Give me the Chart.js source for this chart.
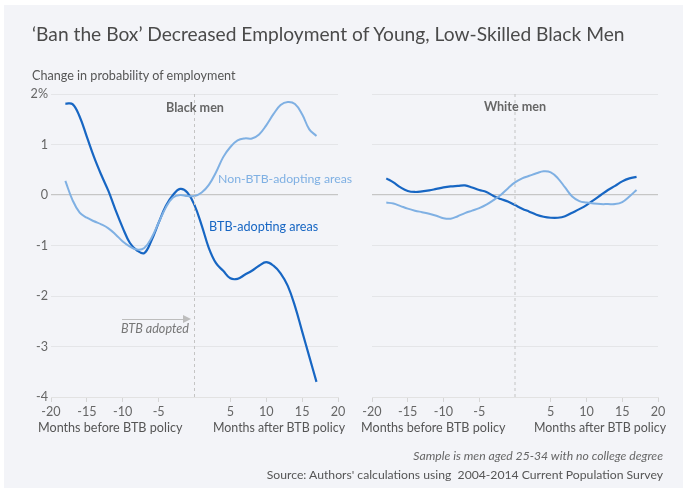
<!DOCTYPE html>
<html>
<head>
<meta charset="utf-8">
<script src="https://cdn.jsdelivr.net/npm/chart.js@4/dist/chart.umd.min.js"></script>
<style>
  html, body { margin: 0; padding: 0; background: #fff; }
  #wrap { position: relative; width: 687px; height: 494px; overflow: hidden; font-family: Lato, sans-serif; }
  #bg { position: absolute; left: 4px; top: 5px; width: 679px; height: 483px; background: #f3f4f8; }
  canvas { position: absolute; left: 0; top: 0; }
  .t { position: absolute; white-space: nowrap; transform: translateY(-50%); line-height: 1; }
  .c { transform: translate(-50%, -50%); }
  #arrow { position: absolute; left: 122px; top: 319px; width: 62px; height: 1px; background: #bdbdbd; }
  #arrow:after { content: ""; position: absolute; right: -7px; top: -4px; border-left: 8px solid #bdbdbd; border-top: 4.5px solid transparent; border-bottom: 4.5px solid transparent; }
</style>
</head>
<body>
<div id="wrap">
  <div id="bg"></div>
  <canvas id="left" width="687" height="494"></canvas>
  <canvas id="right" width="687" height="494"></canvas>

  <div class="t" style="left:32px;top:34px;font-size:19.2px;color:#4a4a4a;">‘Ban the Box’ Decreased Employment of Young, Low-Skilled Black Men</div>
  <div class="t" style="left:32px;top:76px;font-size:12.6px;color:#555;">Change in probability of employment</div>

  <div class="t c" style="left:195px;top:108px;font-size:12.6px;font-weight:bold;color:#666;">Black men</div>
  <div class="t c" style="left:515px;top:107px;font-size:12.6px;font-weight:bold;color:#666;">White men</div>

  <div class="t" style="left:218px;top:179px;font-size:12.3px;color:#7fb0e3;">Non-BTB-adopting areas</div>
  <div class="t" style="left:209px;top:227px;font-size:12.6px;color:#1766c3;">BTB-adopting areas</div>

  <div id="arrow"></div>
  <div class="t" style="left:121px;top:329px;font-size:12.6px;font-style:italic;color:#777;">BTB adopted</div>

  <div class="t" style="left:38px;top:428px;font-size:12.6px;color:#555;">Months before BTB policy</div>
  <div class="t" style="left:213px;top:428px;font-size:12.4px;color:#555;">Months after BTB policy</div>
  <div class="t" style="left:361px;top:428px;font-size:12.6px;color:#555;">Months before BTB policy</div>
  <div class="t" style="left:534px;top:428px;font-size:12.4px;color:#555;">Months after BTB policy</div>

  <div class="t" style="right:24px;top:456px;font-size:12.2px;font-style:italic;color:#666;">Sample is men aged 25-34 with no college degree</div>
  <div class="t" style="right:24px;top:475px;font-size:12.2px;color:#555;">Source: Authors' calculations using&nbsp; 2004-2014 Current Population Survey</div>
</div>

<script>
  const months = [-18, -17, -16, -15, -14, -13, -12, -11, -10, -9, -8, -7, -6, -5, -4, -3, -2, -1,
                  0, 1, 2, 3, 4, 5, 6, 7, 8, 9, 10, 11, 12, 13, 14, 15, 16, 17];

  // Black men
  const blackBtb = [1.81, 1.80, 1.55, 1.15, 0.75, 0.40, 0.08, -0.30, -0.65, -0.95, -1.10, -1.15,
                    -0.90, -0.55, -0.22, 0.00, 0.12, 0.05, -0.20, -0.60, -1.05, -1.35, -1.50, -1.65,
                    -1.66, -1.58, -1.50, -1.40, -1.33, -1.40, -1.55, -1.80, -2.20, -2.70, -3.20, -3.70];
  const blackNonBtb = [0.28, -0.10, -0.35, -0.45, -0.52, -0.58, -0.66, -0.78, -0.92, -1.02, -1.08, -1.05,
                       -0.85, -0.55, -0.25, -0.05, 0.00, -0.02, -0.02, 0.05, 0.20, 0.45, 0.75, 0.95,
                       1.08, 1.12, 1.12, 1.20, 1.38, 1.60, 1.78, 1.84, 1.80, 1.60, 1.30, 1.17];

  // White men
  const whiteBtb = [0.33, 0.25, 0.15, 0.08, 0.06, 0.07, 0.09, 0.12, 0.15, 0.17, 0.18, 0.19,
                    0.15, 0.10, 0.06, -0.02, -0.08, -0.13, -0.20, -0.27, -0.33, -0.39, -0.43, -0.45,
                    -0.45, -0.42, -0.35, -0.28, -0.20, -0.10, 0.00, 0.10, 0.18, 0.27, 0.33, 0.36];
  const whiteNonBtb = [-0.15, -0.17, -0.22, -0.27, -0.31, -0.34, -0.37, -0.41, -0.46, -0.47, -0.42, -0.36,
                       -0.31, -0.26, -0.19, -0.10, 0.00, 0.13, 0.25, 0.33, 0.38, 0.43, 0.47, 0.45,
                       0.33, 0.15, -0.03, -0.12, -0.15, -0.17, -0.18, -0.18, -0.18, -0.14, -0.03, 0.10];

  const yTicks = [2, 1, 0, -1, -2, -3, -4];
  const xTicks = [-20, -15, -10, -5, 5, 10, 15, 20];
  const policyLine = [{ x: 0, y: 2 }, { x: 0, y: -4 }];

  const DARK = "#1766c3";
  const LIGHT = "#7fb0e3";

  function pts(vals) {
    return months.map((m, i) => ({ x: m, y: vals[i] }));
  }

  function makeChart(id, btb, nonBtb, showY, pad) {
    return new Chart(document.getElementById(id), {
      type: "line",
      data: {
        datasets: [
          { data: policyLine, borderColor: "#c4c4c4", borderWidth: 1, borderDash: [3, 3], pointRadius: 0, tension: 0 },
          { data: pts(nonBtb), borderColor: LIGHT, borderWidth: 2, pointRadius: 0, tension: 0.4 },
          { data: pts(btb), borderColor: DARK, borderWidth: 2.2, pointRadius: 0, tension: 0.4 }
        ]
      },
      options: {
        responsive: false,
        animation: false,
        layout: { padding: pad },
        plugins: { legend: { display: false }, tooltip: { enabled: false } },
        scales: {
          x: {
            type: "linear",
            min: -20,
            max: 20,
            afterBuildTicks: s => { s.ticks = xTicks.map(v => ({ value: v })); },
            afterFit: s => { s.height = 20; },
            border: { display: true, color: "#e2e2e2" },
            grid: { drawOnChartArea: false, drawTicks: true, tickLength: 5, color: "#d6d6d6" },
            ticks: { color: "#666", font: { family: "Lato", size: 12.6 }, padding: 2, maxRotation: 0 }
          },
          y: {
            min: -4,
            max: 2,
            afterBuildTicks: s => { s.ticks = yTicks.map(v => ({ value: v })); },
            afterFit: s => { s.width = showY ? 30 : 0; },
            border: { display: false },
            grid: {
              drawTicks: false,
              color: c => c.tick.value === 0 ? "#c6c6c6" : "#e4e5e8",
              lineWidth: c => c.tick.value === 0 ? 1.3 : 1
            },
            ticks: {
              display: showY,
              padding: 3,
              color: "#666",
              font: { family: "Lato", size: 12.6 },
              callback: v => v === 2 ? "2%" : String(v)
            }
          }
        }
      }
    });
  }

  makeChart("left", blackBtb, blackNonBtb, true, { left: 21, right: 349, top: 94, bottom: 77 });
  makeChart("right", whiteBtb, whiteNonBtb, false, { left: 372, right: 29, top: 94, bottom: 77 });
</script>
</body>
</html>
